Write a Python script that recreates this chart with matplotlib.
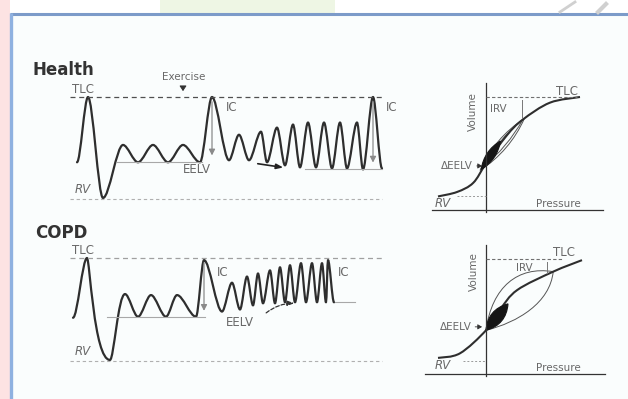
import matplotlib
matplotlib.use("Agg")
import matplotlib.pyplot as plt
from matplotlib.path import Path
from matplotlib.patches import PathPatch, Rectangle

W, H = 628, 399

# ---- spirogram data: time (a.u.) / volume (% of VC, RV=0, TLC=100)
health_t = [7, 18, 33, 53, 68, 83, 98, 113, 130, 142, 159, 169, 179, 191, 197, 207,
            215, 223, 230, 238, 246, 254, 262, 270, 277, 287, 293, 303, 312]
health_v = [36, 100, 1, 53, 36, 53, 36, 53, 36, 100, 38, 63, 38, 66, 36, 70,
            33, 73, 31, 75, 31, 75, 30, 75, 30, 75, 29, 100, 30]
health_eelv_rest = 36
health_eelv_ex = 29

copd_t = [3, 17, 40, 55, 68, 81, 96, 107, 126, 134, 152, 162, 170, 177, 183, 188,
          193, 200, 205, 210, 215, 220, 225, 231, 236, 242, 247, 252, 256, 258, 264]
copd_v = [42, 100, 1, 65, 43, 64, 43, 64, 43, 98, 48, 76, 50, 82, 54, 85,
          56, 88, 56, 91, 57, 93, 57, 95, 57, 95, 57, 95, 57, 98, 57]
copd_eelv_rest = 43
copd_eelv_ex = 57

# ---- pressure-volume curves: pressure (a.u.) / volume (% TLC)
health_pv_p = [-12, -7.2, -3.2, 0, 5.2, 9.2, 16, 23.5]
health_pv_v = [12, 16, 24, 41, 66, 80, 95, 100]
copd_pv_p = [-12, -6.5, 0, 3.5, 7.8, 16.8, 24]
copd_pv_v = [14, 18, 38, 56, 73, 89, 99]

CURVE = "#2e2e2e"
LABEL = "#686868"
FS = 8.5


def panel_ax(fig, x0, sx, xlim, y0, sy, ylim):
    # place an axes so that data -> pixel is x0 + sx*x, y0 - sy*y
    left = (x0 + sx * xlim[0]) / W
    right = (x0 + sx * xlim[1]) / W
    bottom = 1 - (y0 - sy * ylim[0]) / H
    top = 1 - (y0 - sy * ylim[1]) / H
    ax = fig.add_axes([left, bottom, right - left, top - bottom])
    ax.set_xlim(*xlim)
    ax.set_ylim(*ylim)
    ax.axis("off")
    ax.patch.set_alpha(0)
    ax.sx, ax.sy = sx, sy
    return ax


def wave(ax, ts, vs, k=0.32, lw=1.6, knees=None):
    knees = knees or {}
    verts = [(ts[0], vs[0])]
    codes = [Path.MOVETO]
    for i in range(1, len(ts)):
        dx = ts[i] - ts[i - 1]
        k1, k2 = knees.get(i, (k, k))
        verts += [(ts[i - 1] + k1 * dx, vs[i - 1]), (ts[i] - k2 * dx, vs[i]), (ts[i], vs[i])]
        codes += [Path.CURVE4] * 3
    ax.add_patch(PathPatch(Path(verts, codes), fill=False, lw=lw, ec=CURVE,
                           capstyle="round", joinstyle="round", clip_on=False))


def sigmoid(ax, ps, vs, lw=1.5):
    pts = list(zip(ps, vs))
    verts = [pts[0]]
    codes = [Path.MOVETO]
    for i in range(len(pts) - 1):
        p0 = pts[max(i - 1, 0)]
        p1 = pts[i]
        p2 = pts[i + 1]
        p3 = pts[min(i + 2, len(pts) - 1)]
        c1 = (p1[0] + (p2[0] - p0[0]) / 6, p1[1] + (p2[1] - p0[1]) / 6)
        c2 = (p2[0] - (p3[0] - p1[0]) / 6, p2[1] - (p3[1] - p1[1]) / 6)
        verts += [c1, c2, p2]
        codes += [Path.CURVE4] * 3
    ax.add_patch(PathPatch(Path(verts, codes), fill=False, lw=lw, ec=CURVE, clip_on=False))


def lens(ax, a, b, w_up, w_lo, fill=False, lw=0.7):
    # symmetric lens between a and b, widths given in pixels
    sx, sy = ax.sx, ax.sy
    ax_, ay_ = a[0] * sx, a[1] * sy
    bx_, by_ = b[0] * sx, b[1] * sy
    dx, dy = bx_ - ax_, by_ - ay_
    L = (dx * dx + dy * dy) ** 0.5
    nx, ny = -dy / L, dx / L
    def ctrl(f, w):
        return ((ax_ + f * dx + nx * w * 4 / 3) / sx, (ay_ + f * dy + ny * w * 4 / 3) / sy)
    verts = [a, ctrl(1 / 3, w_up), ctrl(2 / 3, w_up), b,
             ctrl(2 / 3, -w_lo), ctrl(1 / 3, -w_lo), a, a]
    codes = [Path.MOVETO] + [Path.CURVE4] * 6 + [Path.CLOSEPOLY]
    if fill:
        ax.add_patch(PathPatch(Path(verts, codes), fc="#151515", ec="#151515", lw=0.8))
    else:
        ax.add_patch(PathPatch(Path(verts, codes), fc="none", ec="#555555", lw=lw))


def spirogram(ax, ts, vs, eelv_rest, eelv_ex, rest_span, ex_span, ic_t, ic_low, tlc_c, rv_c,
              knees=None):
    ax.plot([0, 312], [100, 100], ls=(0, (4, 3)), lw=0.9, color=tlc_c)
    ax.plot([0, 312], [0, 0], ls=(0, (3, 2.5)), lw=0.8, color=rv_c)
    ax.plot(rest_span, [eelv_rest] * 2, lw=0.8, color="#a8a8a8")
    ax.plot(ex_span, [eelv_ex] * 2, lw=0.8, color="#a8a8a8")
    wave(ax, ts, vs, knees=knees)
    for t, lo in zip(ic_t, ic_low):
        ax.annotate("", xy=(t, lo), xytext=(t, 98),
                    arrowprops=dict(arrowstyle="-|>,head_width=0.18,head_length=0.35",
                                    color="#8a8a8a", lw=0.9))
    ax.text(2, 100.5, "TLC", fontsize=FS, color=LABEL, ha="left", va="bottom")
    ax.text(5, 3, "RV", fontsize=FS, color=LABEL, ha="left", va="bottom", style="italic")


fig = plt.figure(figsize=(W / 100, H / 100), dpi=100)
fig.patch.set_facecolor("white")

# background / frame
bg = fig.add_axes([0, 0, 1, 1])
bg.set_xlim(0, W)
bg.set_ylim(H, 0)
bg.axis("off")
bg.add_patch(Rectangle((0, 0), 10, H, fc="#fde3e3", ec="none"))
bg.add_patch(Rectangle((160, 0), 175, 13, fc="#eef6e4", ec="none"))
bg.add_patch(Rectangle((11, 14), W - 11, H - 14, fc="#fafdfd", ec="none"))
bg.plot([10, W], [14, 14], color="#7c9bc9", lw=2.2, solid_capstyle="butt")
bg.plot([11, 11], [13, H], color="#8fb1e0", lw=2.4, solid_capstyle="butt")
bg.plot([560, 575], [12, 2], color="#d0d0d0", lw=2)
bg.plot([598, 606], [12, 4], color="#d0d0d0", lw=3)

# ---- Health spirogram
axh = panel_ax(fig, 70, 1.0, (-15, 330), 199, 1.02, (-10, 115))
spirogram(axh, health_t, health_v, health_eelv_rest, health_eelv_ex,
          (47, 132), (235, 312), [142, 303], [40, 33], "#505050", "#b0b0b0")
axh.text(-37, 126, "Health", fontsize=12, fontweight="bold", color="#333333", va="center")
axh.text(114, 120, "Exercise", fontsize=7.5, color=LABEL, ha="center", va="center")
axh.annotate("", xy=(113, 103), xytext=(113, 113),
             arrowprops=dict(arrowstyle="-|>,head_width=0.2,head_length=0.3", color="#333", lw=0.8))
axh.text(156, 90, "IC", fontsize=FS, color=LABEL, va="center")
axh.text(316, 90, "IC", fontsize=FS, color=LABEL, va="center")
axh.text(127, 29, "EELV", fontsize=FS, color=LABEL, ha="center", va="center")
axh.annotate("", xy=(216, 30.5), xytext=(185, 35),
             arrowprops=dict(arrowstyle="-|>,head_width=0.15,head_length=0.4", color="#222", lw=1.2))

# ---- COPD spirogram
axc = panel_ax(fig, 70, 1.0, (-15, 330), 361, 1.03, (-10, 115))
spirogram(axc, copd_t, copd_v, copd_eelv_rest, copd_eelv_ex,
          (37, 135), (265, 285), [134], [46], "#a0a0a0", "#b0b0b0",
          knees={2: (0.12, 0.7), 3: (0.25, 0.45)})
axc.text(-35, 124, "COPD", fontsize=12, fontweight="bold", color="#333333", va="center")
axc.text(147, 86, "IC", fontsize=FS, color=LABEL, va="center")
axc.text(268, 86, "IC", fontsize=FS, color=LABEL, va="center")
axc.text(170, 37, "EELV", fontsize=FS, color=LABEL, ha="center", va="center")
axc.annotate("", xy=(227, 56), xytext=(194, 45),
             arrowprops=dict(arrowstyle="-|>,head_width=0.15,head_length=0.4", color="#333",
                             lw=0.9, ls=(0, (3, 1.5)), connectionstyle="arc3,rad=-0.2"))


def pv_axes(ax, xmin, xmax, tlc_end, rv_start, rv_v):
    ax.plot([xmin, xmax], [0, 0], color="#333", lw=0.9)
    ax.plot([0, 0], [-1.5, 112], color="#333", lw=0.9)
    ax.plot([0, tlc_end], [100, 100], ls=(0, (3, 2)), lw=0.8, color="#707070")
    ax.plot([rv_start, 0], [rv_v, rv_v], ls=(0, (2, 2)), lw=0.7, color="#9a9a9a")


# ---- Health PV
axp = panel_ax(fig, 486, 4.0, (-17, 32), 210, 1.13, (-5, 118))
pv_axes(axp, -13.5, 29.2, 22.7, -7.2, 12.4)
lens(axp, (-1.5, 35), (9.6, 81), 5, 5)
lens(axp, (-0.8, 38), (9.2, 80), 3, 3)
sigmoid(axp, health_pv_p, health_pv_v)
lens(axp, (-1.2, 36), (3.6, 61), 4, 4, fill=True)
axp.text(-3.3, 87, "Volume", fontsize=7.5, color=LABEL, rotation=90, ha="center", va="center")
axp.text(17.5, 99, "TLC", fontsize=FS, color=LABEL, ha="left", va="bottom")
axp.text(1.0, 89, "IRV", fontsize=7.5, color=LABEL, ha="left", va="center")
axp.plot([9, 9], [81, 97], color="#777", lw=0.7)
axp.text(-3.2, 39, "ΔEELV", fontsize=7.5, color=LABEL, ha="right", va="center")
axp.annotate("", xy=(-0.3, 39), xytext=(-3.0, 39),
             arrowprops=dict(arrowstyle="-|>,head_width=0.15,head_length=0.25", color="#333", lw=0.6))
axp.text(-12.9, 6, "RV", fontsize=FS, color=LABEL, ha="left", va="center", style="italic")
axp.text(12.5, 5.5, "Pressure", fontsize=7.5, color=LABEL, ha="left", va="center")

# ---- COPD PV
axq = panel_ax(fig, 486, 4.0, (-17, 32), 374, 1.15, (-5, 118))
pv_axes(axq, -15.2, 29.7, 19, -5.7, 11.3)
big = Path([(0, 38), (1.5, 76), (8, 94), (16.8, 89), (16, 62), (8, 45), (0, 38), (0, 38)],
           [Path.MOVETO] + [Path.CURVE4] * 6 + [Path.CLOSEPOLY])
axq.add_patch(PathPatch(big, fc="none", ec="#555555", lw=0.7))
sigmoid(axq, copd_pv_p, copd_pv_v)
lens(axq, (0, 38), (5.5, 61), 6, 6, fill=True)
axq.text(-3.0, 89, "Volume", fontsize=7.5, color=LABEL, rotation=90, ha="center", va="center")
axq.text(16.8, 100, "TLC", fontsize=FS, color=LABEL, ha="left", va="bottom")
axq.text(7.6, 92, "IRV", fontsize=7.5, color=LABEL, ha="left", va="center")
axq.plot([15.2, 15.2], [88, 97], color="#777", lw=0.7)
axq.text(-3.6, 41, "ΔEELV", fontsize=7.5, color=LABEL, ha="right", va="center")
axq.annotate("", xy=(-0.3, 41), xytext=(-3.4, 41),
             arrowprops=dict(arrowstyle="-|>,head_width=0.15,head_length=0.25", color="#333", lw=0.6))
axq.text(-12.9, 7, "RV", fontsize=FS, color=LABEL, ha="left", va="center", style="italic")
axq.text(12.5, 5.2, "Pressure", fontsize=7.5, color=LABEL, ha="left", va="center")

fig.savefig("out.png", dpi=100, facecolor=fig.get_facecolor())
